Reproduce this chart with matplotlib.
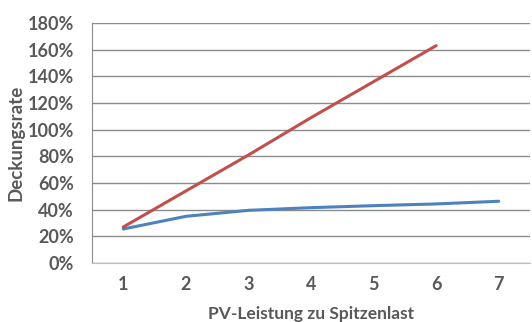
import matplotlib.pyplot as plt
from matplotlib.ticker import PercentFormatter

# PV-Leistung / Spitzenlast vs. Deckungsrate
pv_ratio = [1, 2, 3, 4, 5, 6, 7]
rate_blue = [25.5, 35, 39.5, 41.5, 43, 44.3, 46.3]
ratio_red = [1, 2, 3, 4, 5, 6]
rate_red = [27, 54, 81, 109, 136, 163]

y_ticks = [0, 20, 40, 60, 80, 100, 120, 140, 160, 180]

grey = "#595959"
plt.rcParams["font.family"] = ["Lato", "DejaVu Sans"]

fig = plt.figure(figsize=(5.32, 3.22), dpi=100)
ax = fig.add_axes([92 / 532, 59 / 322, 438 / 532, 240 / 322])

ax.plot(pv_ratio, rate_blue, color="#4F81BD", lw=2.2, solid_capstyle="round")
ax.plot(ratio_red, rate_red, color="#C0504D", lw=2.2, solid_capstyle="round")

ax.set_xlim(0.5, 7.5)
ax.set_ylim(0, 180)
ax.set_xticks(pv_ratio)
ax.set_yticks(y_ticks)
ax.yaxis.set_major_formatter(PercentFormatter(decimals=0))
ax.grid(axis="y", color="#8C8C8C", lw=1.0)
ax.set_axisbelow(True)

for side in ["top", "right"]:
    ax.spines[side].set_visible(False)
ax.spines["left"].set_color("#8C8C8C")
ax.spines["bottom"].set_color("#BFBFBF")

ax.tick_params(length=0, labelsize=13, labelcolor=grey)
ax.tick_params(axis="y", pad=13)
ax.tick_params(axis="x", pad=9)
for lbl in ax.get_xticklabels() + ax.get_yticklabels():
    lbl.set_fontweight("bold")

ax.set_ylabel("Deckungsrate", fontsize=13.5, fontweight="bold", color=grey, labelpad=2)
ax.set_xlabel("PV-Leistung zu Spitzenlast", fontsize=12.5, fontweight="bold", color=grey, labelpad=10)

fig.savefig("out.png", dpi=100)
